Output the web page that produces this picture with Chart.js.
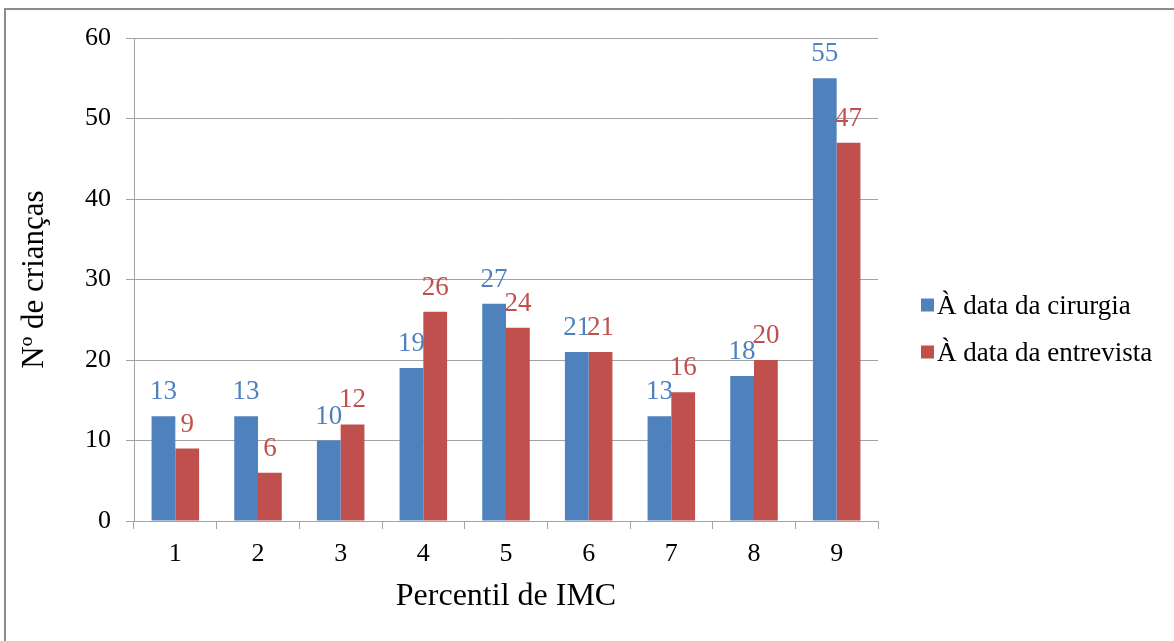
<!DOCTYPE html>
<html>
<head>
<meta charset="utf-8">
<script src="https://cdn.jsdelivr.net/npm/chart.js@4/dist/chart.umd.min.js"></script>
<style>
  html, body { margin: 0; padding: 0; background: #ffffff; }
  #wrap { position: relative; width: 1174px; height: 641px; overflow: hidden; }
  #wrap canvas { position: absolute; left: 0; top: 0; }
  #frame {
    position: absolute; left: 4px; top: 8px; width: 1300px; height: 800px;
    border-left: 2px solid #8c8c8c; border-top: 2px solid #8c8c8c;
    box-sizing: border-box; pointer-events: none;
  }
</style>
</head>
<body>
<div id="wrap">
  <canvas id="chart" width="1174" height="641"></canvas>
  <div id="frame"></div>
</div>
<script>
// Percentil de IMC: number of children per BMI percentile band
const categories = ['1', '2', '3', '4', '5', '6', '7', '8', '9'];
const cirurgia   = [13, 13, 10, 19, 27, 21, 13, 18, 55];
const entrevista = [9, 6, 12, 26, 24, 21, 16, 20, 47];
const yTicks     = [0, 10, 20, 30, 40, 50, 60];
const seriesNames  = ['À data da cirurgia', 'À data da entrevista'];
const seriesColors = ['#4F81BD', '#C0504D'];

const SERIF = "'Liberation Serif', 'Times New Roman', serif";
const GRID = '#a3a3a3';

Chart.defaults.font.family = SERIF;
Chart.defaults.color = '#000000';

// value written above each bar, in the series colour
const valueLabels = {
  id: 'valueLabels',
  afterDatasetsDraw(chart) {
    const ctx = chart.ctx;
    ctx.save();
    ctx.font = '27px ' + SERIF;
    ctx.textAlign = 'center';
    ctx.textBaseline = 'alphabetic';
    chart.data.datasets.forEach((ds, di) => {
      const meta = chart.getDatasetMeta(di);
      ctx.fillStyle = ds.backgroundColor;
      meta.data.forEach((bar, i) => {
        ctx.fillText(String(ds.data[i]), bar.x, bar.y - 17);
      });
    });
    ctx.restore();
  }
};

// legend to the right of the plot: small square + series name
const sideLegend = {
  id: 'sideLegend',
  afterDraw(chart) {
    const ctx = chart.ctx;
    const area = chart.chartArea;
    const x0 = area.right + 43;
    const yMid = (area.top + area.bottom) / 2 + 49;
    const step = 47;
    const n = chart.data.datasets.length;
    ctx.save();
    ctx.font = '27px ' + SERIF;
    ctx.textAlign = 'left';
    ctx.textBaseline = 'alphabetic';
    chart.data.datasets.forEach((ds, i) => {
      const cy = yMid + (i - (n - 1) / 2) * step;
      ctx.fillStyle = ds.backgroundColor;
      ctx.fillRect(x0, cy - 6.5, 13, 13);
      ctx.fillStyle = '#000000';
      ctx.fillText(ds.label, x0 + 16, cy + 8.5);
    });
    ctx.restore();
  }
};

new Chart(document.getElementById('chart'), {
  type: 'bar',
  data: {
    labels: categories,
    datasets: [
      { label: seriesNames[0], data: cirurgia,   backgroundColor: seriesColors[0] },
      { label: seriesNames[1], data: entrevista, backgroundColor: seriesColors[1] }
    ]
  },
  options: {
    responsive: false,
    animation: false,
    devicePixelRatio: 1,
    layout: { padding: { left: 8, top: 38, right: 296, bottom: 0 } },
    datasets: {
      bar: { categoryPercentage: 0.575, barPercentage: 1.0, borderWidth: 0 }
    },
    plugins: {
      legend: { display: false },
      tooltip: { enabled: false }
    },
    scales: {
      x: {
        type: 'category',
        offset: true,
        grid: {
          offset: true,
          drawOnChartArea: false,
          drawTicks: true,
          tickLength: 8,
          color: GRID,
          lineWidth: 1
        },
        border: { display: true, color: GRID, width: 1 },
        ticks: { font: { size: 26 }, padding: 10, color: '#000000', maxRotation: 0 },
        title: {
          display: true,
          text: 'Percentil de IMC',
          font: { size: 32 },
          color: '#000000',
          padding: { top: 0, bottom: 25 }
        },
        afterFit(scale) { scale.height = 120; }
      },
      y: {
        min: 0,
        max: 60,
        grid: { color: GRID, lineWidth: 1, drawTicks: true, tickLength: 8 },
        border: { display: true, color: GRID, width: 1 },
        ticks: { font: { size: 26 }, padding: 15, color: '#000000' },
        afterBuildTicks(scale) { scale.ticks = yTicks.map(v => ({ value: v })); },
        title: {
          display: true,
          text: 'Nº de crianças',
          font: { size: 31 },
          color: '#000000',
          padding: { top: 8, bottom: 0 }
        },
        afterFit(scale) { scale.width = 126; }
      }
    }
  },
  plugins: [valueLabels, sideLegend]
});
</script>
</body>
</html>
